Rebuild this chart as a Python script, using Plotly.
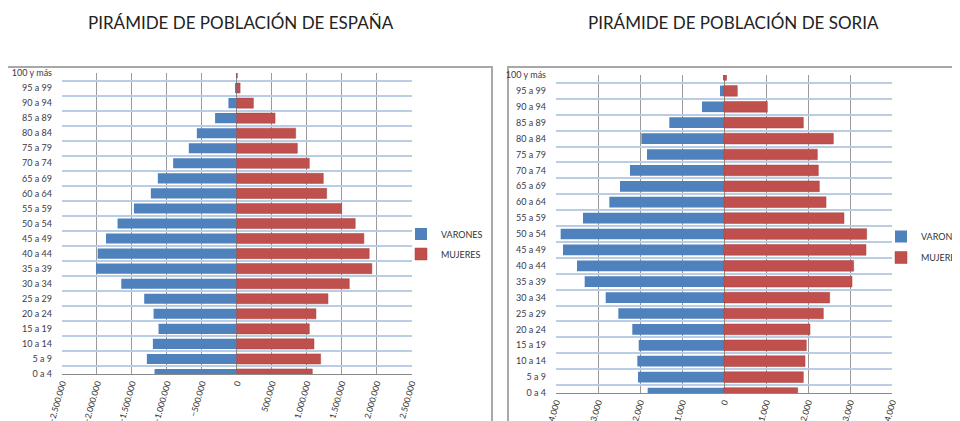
import plotly.graph_objects as go

# grupos de edad (de abajo a arriba)
grupos = ['0 a 4', '5 a 9', '10 a 14', '15 a 19', '20 a 24', '25 a 29', '30 a 34',
          '35 a 39', '40 a 44', '45 a 49', '50 a 54', '55 a 59', '60 a 64', '65 a 69',
          '70 a 74', '75 a 79', '80 a 84', '85 a 89', '90 a 94', '95 a 99', '100 y más']

# España
espana_varones = [1176000, 1286000, 1200000, 1119000, 1190000, 1324000, 1652000,
                  2014000, 1990000, 1871000, 1705000, 1471000, 1229000, 1129000,
                  910000, 686000, 571000, 310000, 119000, 25000, 3000]
espana_mujeres = [1081000, 1200000, 1105000, 1038000, 1133000, 1305000, 1610000,
                  1933000, 1895000, 1819000, 1695000, 1500000, 1286000, 1238000,
                  1038000, 867000, 843000, 548000, 238000, 48000, 8000]

# Soria
soria_varones = [1817, 2048, 2063, 2031, 2183, 2516, 2817, 3317, 3500, 3833, 3889,
                 3357, 2730, 2476, 2238, 1833, 1968, 1302, 524, 95, 10]
soria_mujeres = [1754, 1889, 1929, 1960, 2048, 2365, 2516, 3048, 3087, 3381, 3397,
                 2857, 2429, 2270, 2246, 2222, 2603, 1889, 1032, 317, 60]

AZUL = '#4f81bd'
ROJO = '#c0504d'
W, H = 960, 421
OFF = 8  # margen por defecto del body de la página


def px_x(v):
    return (v - OFF) / W


def px_y(v):
    return (H - (v - OFF)) / H


fig = go.Figure()

fig.add_trace(go.Bar(y=grupos, x=[-v for v in espana_varones], orientation='h',
                     name='VARONES', marker=dict(color=AZUL, line=dict(width=0)),
                     xaxis='x', yaxis='y', legend='legend', legendgroup='ev'))
fig.add_trace(go.Bar(y=grupos, x=espana_mujeres, orientation='h',
                     name='MUJERES', marker=dict(color=ROJO, line=dict(color='#a8403d', width=0.5)),
                     xaxis='x', yaxis='y', legend='legend', legendgroup='em'))
fig.add_trace(go.Bar(y=grupos, x=[-v for v in soria_varones], orientation='h',
                     name='VARONES', marker=dict(color=AZUL, line=dict(width=0)),
                     xaxis='x2', yaxis='y2', legend='legend2', legendgroup='sv'))
fig.add_trace(go.Bar(y=grupos, x=soria_mujeres, orientation='h',
                     name='MUJERES', marker=dict(color=ROJO, line=dict(color='#a8403d', width=0.5)),
                     xaxis='x2', yaxis='y2', legend='legend2', legendgroup='sm'))

eje_x = dict(showgrid=True, gridcolor='#9a9a9a', gridwidth=1,
             zeroline=True, zerolinecolor='#8a8a8a', zerolinewidth=1,
             showline=True, linecolor='#8a8a8a', linewidth=1, automargin=False,
             ticks='', tickangle=-74, tickformat=',d',
             tickfont=dict(family='Lato', size=8.5, color='#333333'))
eje_y = dict(type='category', range=[0, 20], tickson='boundaries',
             showgrid=True, gridcolor='#b9cde5', gridwidth=2, automargin=False,
             ticks='', ticklabelstandoff=9, showline=False,
             tickfont=dict(family='Lato', size=9, color='#3a3a4a'))

leyenda = dict(xanchor='left', yanchor='middle',
               font=dict(family='Lato', size=9, color='#333333'),
               bgcolor='rgba(0,0,0,0)', itemwidth=30)

fig.update_layout(
    width=W, height=H,
    separators=',.',
    barmode='overlay', bargap=0.33,
    plot_bgcolor='white', paper_bgcolor='white',
    margin=dict(l=0, r=0, t=0, b=0, autoexpand=False),
    xaxis=dict(eje_x, domain=[px_x(62), px_x(411.5)], range=[-2500000, 2500000],
               dtick=500000, anchor='y'),
    yaxis=dict(eje_y, domain=[px_y(374), px_y(73)], anchor='x'),
    xaxis2=dict(eje_x, domain=[px_x(556), px_x(892)], range=[-4000, 4000],
                dtick=1000, anchor='y2'),
    yaxis2=dict(eje_y, domain=[px_y(393), px_y(75)], anchor='x2'),
    legend=dict(leyenda, x=px_x(401), y=px_y(244), tracegroupgap=1),
    legend2=dict(leyenda, x=px_x(881), y=px_y(247), tracegroupgap=2),
    annotations=[
        dict(text='PIRÁMIDE DE POBLACIÓN DE ESPAÑA', x=px_x(241), y=px_y(22),
             xref='paper', yref='paper', xanchor='center', yanchor='middle',
             showarrow=False, font=dict(family='Lato', size=17, color='#222222')),
        dict(text='PIRÁMIDE DE POBLACIÓN DE SORIA', x=px_x(733), y=px_y(22),
             xref='paper', yref='paper', xanchor='center', yanchor='middle',
             showarrow=False, font=dict(family='Lato', size=17, color='#222222')),
    ],
    shapes=[
        dict(type='rect', xref='paper', yref='paper', layer='below',
             x0=px_x(7), x1=px_x(492), y0=px_y(440), y1=px_y(67),
             line=dict(color='#a8a8a8', width=2)),
        dict(type='rect', xref='paper', yref='paper', layer='below',
             x0=px_x(508), x1=px_x(975), y0=px_y(440), y1=px_y(67),
             line=dict(color='#a8a8a8', width=2)),
    ],
)

fig.write_html('out.html')
